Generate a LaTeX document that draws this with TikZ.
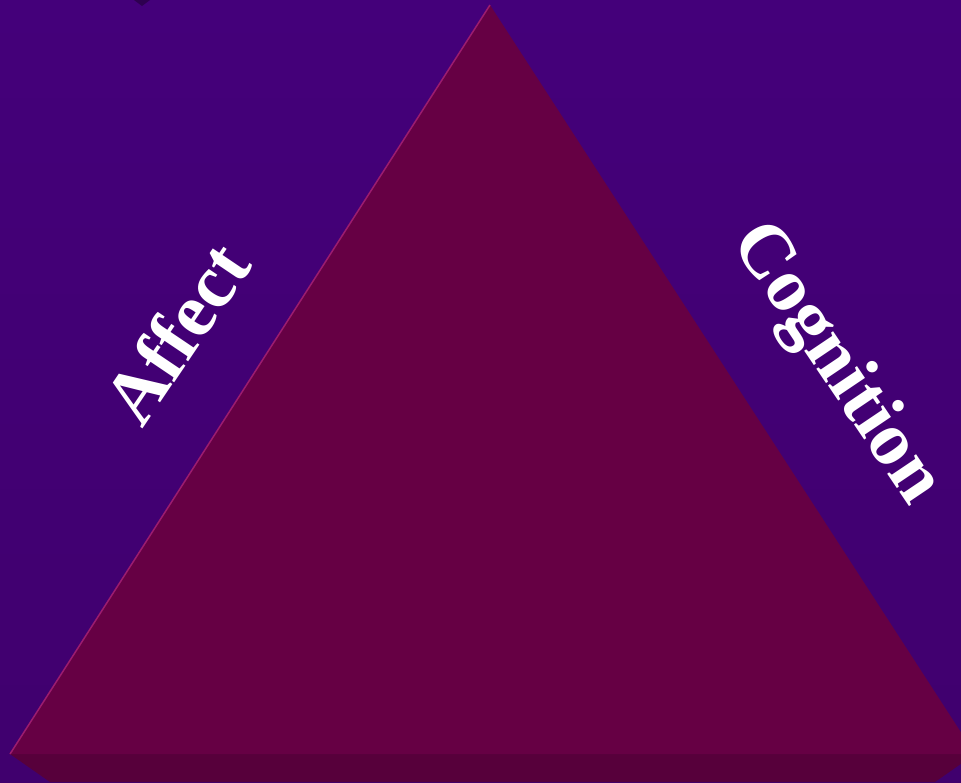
\documentclass[tikz,border=0pt]{standalone}
\usepackage{fontspec}
\setmainfont{Liberation Serif}
\usetikzlibrary{calc}

\definecolor{bgtop}{HTML}{44007A}
\definecolor{bgmid}{HTML}{57009A}
\definecolor{bgbot}{HTML}{40006E}
\definecolor{facecol}{HTML}{660044}
\definecolor{basecol}{HTML}{57003B}
\definecolor{edgecol}{HTML}{9C1C6E}
\definecolor{markcol}{HTML}{2E0050}

\tikzset{sidelabel/.style={text=white, inner sep=0pt, font=\fontsize{76}{86}\selectfont\bfseries}}

\begin{document}
\begin{tikzpicture}[x=1pt, y=-1pt]
\useasboundingbox (0,0) rectangle (961,782);

%background
        \shade[top color=bgtop, middle color=bgmid, bottom color=bgbot] (0,0) rectangle (961,782);
        \fill[markcol] (134,0) -- (150,0) -- (142,6) -- cycle;

%corners of the pyramid
        \coordinate (T) at (490,5);
        \coordinate (L) at (10,754);
        \coordinate (R) at (975,754);
        \coordinate (Lb) at (50,782);
        \coordinate (Rb) at (935,782);

        \fill[basecol] (L) -- (R) -- (Rb) -- (Lb) -- cycle;
        \fill[facecol] (T) -- (L) -- (R) -- cycle;
        \draw[edgecol, line width=1.5] (L) -- (T);

        %label sides
        \node[sidelabel, rotate=56] (affect) at (176,333) {Affect};
        \node[sidelabel, rotate=-56] (cognition) at (835,364) {Cognition};
\end{tikzpicture}
\end{document}
